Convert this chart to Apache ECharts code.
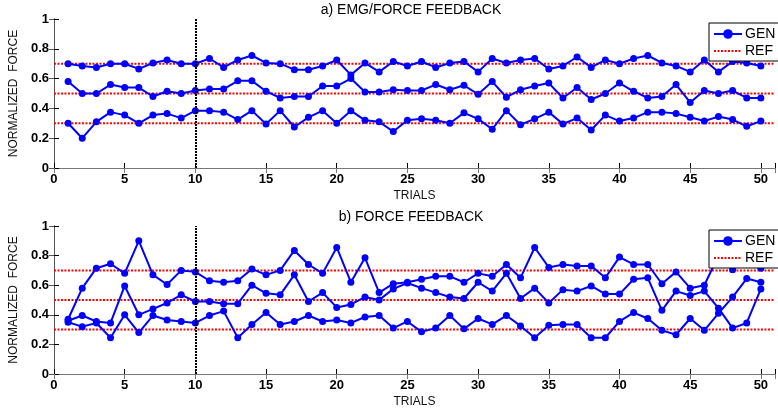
<!DOCTYPE html>
<html><head><meta charset="utf-8">
<script src="https://cdn.jsdelivr.net/npm/echarts@6/dist/echarts.min.js"></script>
<style>html,body{margin:0;padding:0;background:#fff}#c{width:778px;height:409px}</style>
</head><body><div id="c"></div>
<script>
const trials = Array.from({length: 50}, (_, i) => i + 1);
const xTicks = [0, 5, 10, 15, 20, 25, 30, 35, 40, 45, 50];
const yTicks = [0, 0.2, 0.4, 0.6, 0.8, 1];
const refLevels = [0.3, 0.5, 0.7];
const switchTrial = 10;
const titles = ['a) EMG/FORCE FEEDBACK', 'b) FORCE FEEDBACK'];

const emgHigh = [0.70,0.685,0.675,0.70,0.70,0.665,0.705,0.725,0.70,0.70,0.735,0.675,0.725,0.755,0.705,0.70,0.66,0.66,0.685,0.725,0.625,0.705,0.645,0.715,0.685,0.715,0.675,0.705,0.715,0.645,0.735,0.705,0.725,0.735,0.665,0.685,0.745,0.675,0.725,0.70,0.735,0.755,0.705,0.685,0.645,0.725,0.645,0.715,0.705,0.685];
const emgMid = [0.58,0.50,0.50,0.56,0.54,0.54,0.48,0.515,0.50,0.52,0.53,0.53,0.585,0.585,0.515,0.47,0.48,0.48,0.55,0.55,0.60,0.51,0.51,0.525,0.52,0.52,0.56,0.525,0.555,0.495,0.58,0.475,0.525,0.55,0.57,0.47,0.54,0.46,0.50,0.57,0.515,0.47,0.48,0.56,0.44,0.52,0.50,0.52,0.47,0.47];
const emgLow = [0.30,0.20,0.31,0.375,0.355,0.30,0.355,0.365,0.335,0.385,0.385,0.375,0.325,0.385,0.295,0.385,0.275,0.34,0.385,0.30,0.385,0.32,0.31,0.245,0.32,0.33,0.32,0.30,0.37,0.33,0.26,0.385,0.29,0.33,0.375,0.295,0.335,0.255,0.355,0.315,0.335,0.375,0.375,0.365,0.34,0.315,0.345,0.325,0.28,0.315];

const ffA = [0.37,0.58,0.715,0.745,0.68,0.90,0.67,0.605,0.70,0.69,0.63,0.62,0.63,0.71,0.67,0.70,0.835,0.74,0.68,0.855,0.62,0.785,0.55,0.61,0.62,0.64,0.66,0.66,0.62,0.68,0.66,0.74,0.65,0.855,0.72,0.74,0.73,0.73,0.65,0.79,0.74,0.74,0.61,0.69,0.58,0.60,0.80,0.705,0.77,0.715];
const ffB = [0.36,0.395,0.355,0.345,0.595,0.40,0.44,0.48,0.535,0.49,0.49,0.475,0.475,0.60,0.545,0.535,0.67,0.49,0.55,0.45,0.47,0.52,0.50,0.575,0.615,0.58,0.55,0.52,0.51,0.62,0.56,0.68,0.51,0.58,0.48,0.57,0.56,0.595,0.54,0.54,0.64,0.65,0.43,0.56,0.53,0.56,0.445,0.31,0.345,0.575];
const ffC = [0.35,0.32,0.345,0.245,0.40,0.28,0.395,0.365,0.355,0.345,0.395,0.425,0.245,0.335,0.415,0.335,0.355,0.395,0.355,0.365,0.345,0.385,0.395,0.31,0.355,0.285,0.31,0.395,0.305,0.375,0.335,0.395,0.325,0.245,0.33,0.335,0.335,0.245,0.245,0.355,0.415,0.375,0.295,0.265,0.375,0.295,0.41,0.52,0.645,0.62];

const panels = [[emgHigh, emgMid, emgLow], [ffA, ffB, ffC]];
const X_MAX = 51;
const FONT = "'Liberation Sans Narrow','Liberation Sans',Arial,sans-serif";

const grids = [
  {left: 45, right: 1, top: 19, height: 149},
  {left: 45, right: 1, top: 226, height: 150}
];
const xAxis = [], yAxis = [], series = [], legend = [], title = [];
grids.forEach((g, gi) => {
  xAxis.push({type: 'value', gridIndex: gi, min: 0, max: X_MAX, interval: 5,
    name: 'TRIALS', nameLocation: 'middle', nameGap: 22,
    nameTextStyle: {fontFamily: FONT, fontSize: 12, color: '#111'},
    axisLine: {lineStyle: {color: '#000', width: 1}},
    axisTick: {inside: true, length: 5, lineStyle: {color: '#000'}},
    axisLabel: {fontFamily: FONT, fontSize: 13, fontWeight: 'bold', color: '#000', margin: 5,
      formatter: v => xTicks.includes(v) ? String(v) : ''},
    splitLine: {show: false}});
  xAxis.push({type: 'value', gridIndex: gi, min: 0, max: X_MAX, interval: 5, position: 'top',
    axisLine: {lineStyle: {color: '#777', width: 1}},
    axisTick: {inside: true, length: 5, lineStyle: {color: '#777'}},
    axisLabel: {show: false}, splitLine: {show: false}});
  yAxis.push({type: 'value', gridIndex: gi, min: 0, max: 1, interval: 0.2,
    name: 'NORMALIZED  FORCE', nameLocation: 'middle', nameGap: 27, nameRotate: 90,
    nameTextStyle: {fontFamily: FONT, fontSize: 12, color: '#111'},
    axisLine: {lineStyle: {color: '#000', width: 1}},
    axisTick: {inside: true, length: 5, lineStyle: {color: '#000'}},
    axisLabel: {fontFamily: FONT, fontSize: 13, fontWeight: 'bold', color: '#000', margin: 5,
      formatter: v => { const t = yTicks.find(k => Math.abs(k - v) < 1e-6); return t === undefined ? '' : String(t); }},
    splitLine: {show: false}});
  yAxis.push({type: 'value', gridIndex: gi, min: 0, max: 1, interval: 0.2, position: 'right',
    axisLine: {lineStyle: {color: '#555', width: 1}},
    axisTick: {inside: true, length: 5, lineStyle: {color: '#555'}},
    axisLabel: {show: false}, splitLine: {show: false}});

  refLevels.forEach((r, ri) => {
    series.push({name: 'REF', type: 'line', xAxisIndex: gi * 2, yAxisIndex: gi * 2,
      data: [[0, r], [X_MAX, r]], showSymbol: false, symbol: 'none', z: 2,
      color: '#ff0000', lineStyle: {color: '#ff0000', width: 2, type: [2, 1.5]},
      silent: true, animation: false,
      markLine: ri === 0 ? {silent: true, symbol: 'none', label: {show: false},
        lineStyle: {color: '#000', width: 2, type: [2, 1]},
        data: [{xAxis: switchTrial}]} : undefined});
  });
  panels[gi].forEach(arr => {
    series.push({name: 'GEN', type: 'line', xAxisIndex: gi * 2, yAxisIndex: gi * 2,
      data: trials.map((t, i) => [t, arr[i]]), symbol: 'circle', symbolSize: 7, showSymbol: true,
      color: '#0000ff', lineStyle: {color: '#0000ff', width: 2}, itemStyle: {color: '#0000ff'},
      z: 3, animation: false});
  });

  legend.push({show: true,
    data: ['GEN', {name: 'REF', itemStyle: {opacity: 0, color: 'rgba(0,0,0,0)', borderWidth: 0}}],
    orient: 'vertical', left: 709, top: gi === 0 ? 23 : 230,
    backgroundColor: '#fff', borderColor: '#000', borderWidth: 1, borderRadius: 0,
    padding: [4, 5, 3, 4], itemGap: 3, itemWidth: 28, itemHeight: 12,
    textStyle: {fontFamily: FONT, fontSize: 14, color: '#000', padding: [0, 0, 0, -2]},
    selectedMode: false});
  title.push({text: titles[gi], left: 406, textAlign: 'center', top: gi === 0 ? -2 : 205,
    textStyle: {fontFamily: FONT, fontSize: 14, fontWeight: 'normal', color: '#000'}});
});

const chart = echarts.init(document.getElementById('c'), null, {renderer: 'canvas'});
chart.setOption({animation: false, backgroundColor: '#fff', title, legend, grid: grids, xAxis, yAxis, series});
</script></body></html>
